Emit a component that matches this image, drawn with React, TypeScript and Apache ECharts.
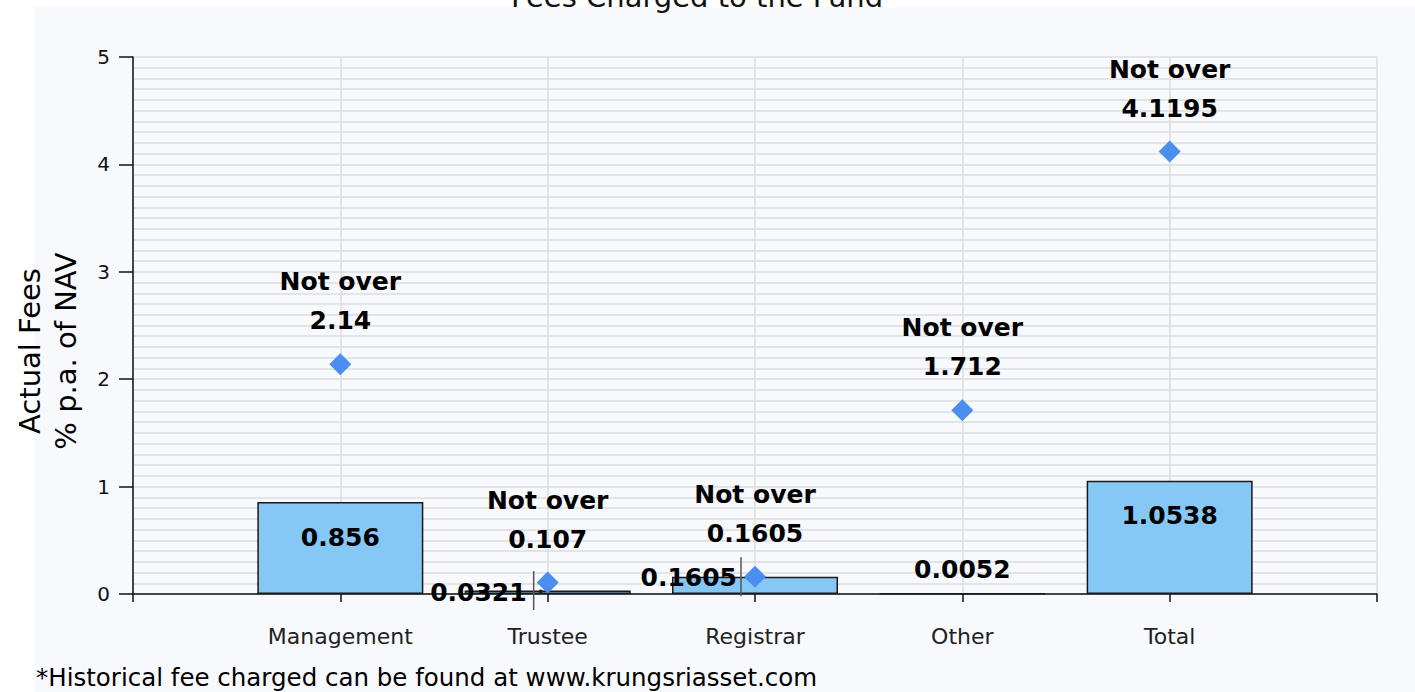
import React, { useEffect, useRef } from "react";
import * as echarts from "echarts";

const categories = ["Management", "Trustee", "Registrar", "Other", "Total"];
const actualFees = [0.856, 0.0321, 0.1605, 0.0052, 1.0538];
const maxFees = [2.14, 0.107, 0.1605, 1.712, 4.1195];
const yTicks = [0, 1, 2, 3, 4, 5];

const FONT = "DejaVu Sans";

export default function App() {
  const ref = useRef<HTMLDivElement>(null);
  useEffect(() => {
    if (!ref.current) return;
    const chart = echarts.init(ref.current, null, { renderer: "svg" });
    const axisCats = ["", ...categories, ""];
    const pad = (arr: any[]) => ["-", ...arr, "-"];

    const labelStyles: any[] = [
      { position: "insideTop", distance: 20 },
      { position: ["50%", 0], align: "right", verticalAlign: "middle", offset: [-21, 1.5] },
      { position: ["50%", 0], align: "right", verticalAlign: "middle", offset: [-18, 0.5] },
      { position: "top", distance: 8 },
      { position: "insideTop", distance: 20 },
    ];

    const barData = pad(
      actualFees.map((v, i) => ({
        value: v,
        label: { show: true, ...labelStyles[i] },
      }))
    );
    const leaderIdx = [1, 2];
    const leaderData = pad(actualFees.map((v, i) => (leaderIdx.includes(i) ? v : "-")));

    chart.setOption({
      animation: false,
      textStyle: { fontFamily: FONT },
      grid: { left: 133, right: 38, top: 57, bottom: 98, containLabel: false },
      graphic: [
        {
          type: "text",
          x: 697,
          y: -3.5,
          style: {
            text: "Fees Charged to the Fund",
            font: `29px ${FONT}`,
            fill: "#111",
            align: "center",
            verticalAlign: "middle",
          },
        },
        {
          type: "text",
          x: 48,
          y: 351,
          rotation: Math.PI / 2,
          style: {
            text: "Actual Fees\n% p.a. of NAV",
            font: `29px ${FONT}`,
            lineHeight: 36,
            fill: "#000",
            align: "center",
            verticalAlign: "middle",
          },
        },
        {
          type: "text",
          x: 36,
          y: 677,
          style: {
            text: "*Historical fee charged can be found at www.krungsriasset.com",
            font: `24.5px ${FONT}`,
            fill: "#000",
            align: "left",
            verticalAlign: "middle",
          },
        },
      ],
      xAxis: {
        type: "category",
        data: axisCats,
        boundaryGap: false,
        axisLine: { show: true, lineStyle: { color: "#111", width: 1.5 } },
        axisTick: { show: true, length: 8, lineStyle: { color: "#111", width: 1.5 } },
        axisLabel: { fontSize: 22, color: "#222", margin: 31, fontFamily: FONT, interval: 0 },
        splitLine: { show: true, lineStyle: { color: "#dcdcdc", width: 1.5 } },
      },
      yAxis: {
        type: "value",
        min: yTicks[0],
        max: yTicks[yTicks.length - 1],
        interval: 1,
        axisLine: { show: true, lineStyle: { color: "#111", width: 1.5 } },
        axisTick: { show: true, length: 14, lineStyle: { color: "#111", width: 1.5 } },
        axisLabel: { fontSize: 20, color: "#111", margin: 23, fontFamily: FONT },
        splitLine: { show: true, lineStyle: { color: "#dcdcdc", width: 1.5 } },
        minorTick: { show: false, splitNumber: 10 },
        minorSplitLine: { show: true, lineStyle: { color: "#dcdcdc", width: 1.5 } },
      },
      series: [
        {
          type: "bar",
          data: barData,
          barWidth: 166,
          itemStyle: { color: "#85c8f6", borderColor: "#1a1a1a", borderWidth: 1.5 },
          label: {
            show: true,
            fontSize: 25,
            fontWeight: "bold",
            fontFamily: FONT,
            color: "#000",
            lineHeight: 30,
          },
          z: 2,
        },
        {
          type: "scatter",
          data: leaderData,
          symbol: "rect",
          symbolSize: [1.5, 39],
          symbolOffset: [-14, 0],
          itemStyle: { color: "#555", opacity: 1 },
          silent: true,
          z: 3,
        },
        {
          type: "scatter",
          data: leaderData,
          symbol: "circle",
          symbolSize: 4,
          symbolOffset: [-7, 1],
          itemStyle: { color: "#222", opacity: 1 },
          silent: true,
          z: 3,
        },
        {
          type: "scatter",
          data: pad(maxFees),
          symbol: "diamond",
          symbolSize: 22,
          itemStyle: { color: "#4a8ef0", opacity: 1 },
          label: {
            show: true,
            position: "top",
            distance: 13,
            formatter: (p: any) => "Not over\n" + maxFees[p.dataIndex - 1],
            fontSize: 25,
            fontWeight: "bold",
            fontFamily: FONT,
            color: "#000",
            opacity: 1,
            lineHeight: 39,
          },
          z: 4,
        },
      ],
    });
    return () => chart.dispose();
  }, []);

  return (
    <div style={{ position: "absolute", left: 0, top: 0, width: 1415, height: 692, background: "#fff" }}>
      <div
        style={{ position: "absolute", left: 34, top: 7, width: 1381, height: 685, background: "#f8f9fd" }}
      />
      <div ref={ref} style={{ position: "absolute", left: 0, top: 0, width: 1415, height: 692 }} />
    </div>
  );
}
